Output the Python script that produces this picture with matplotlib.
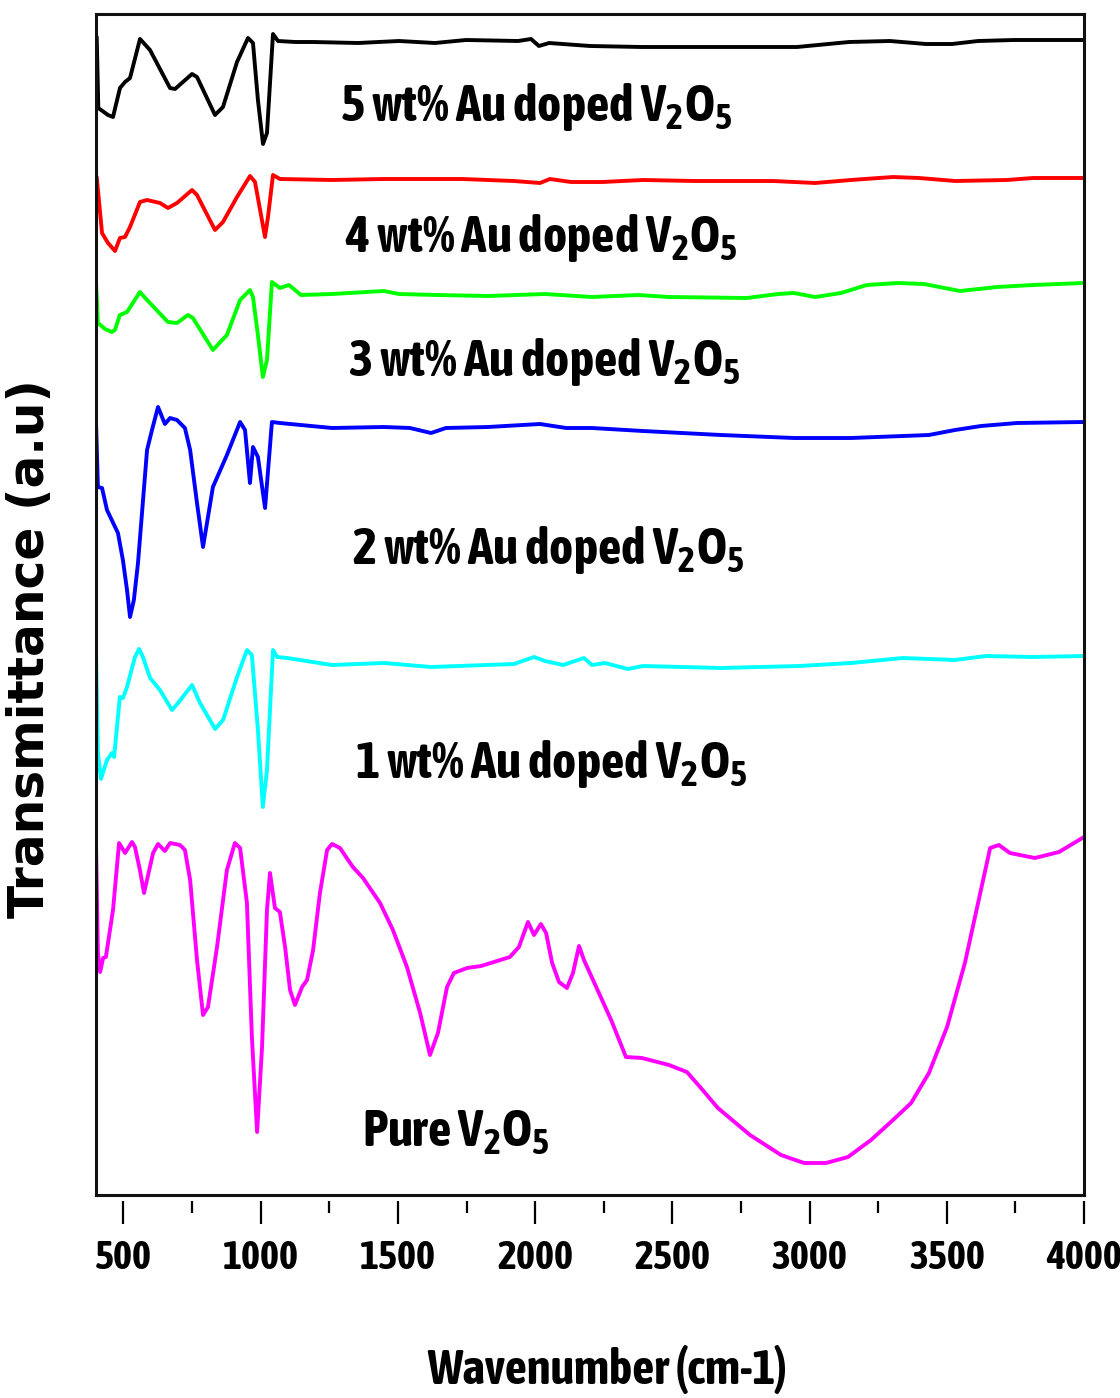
import matplotlib
matplotlib.use("Agg")
import matplotlib.pyplot as plt
from matplotlib.ticker import MultipleLocator

# ---------------- data (wavenumber in cm-1, transmittance in arbitrary offset units) -------------
wn_5 = [402.6, 408.4, 443.7, 461.9, 487.4, 505.7, 523.9, 560.3, 596.8, 669.6, 687.9, 749.8, 768,
        833.6, 862.7, 913.8, 953.8, 972, 990, 1008.5, 1023, 1044.9, 1063.2, 1127, 1191, 1355, 1504,
        1635, 1748, 1938, 1985, 2014, 2051, 2200, 2389, 2674, 2954, 3144, 3293, 3424, 3519, 3614,
        3745, 4000]
t_5 = [1158, 1087, 1080, 1078, 1107, 1113, 1117, 1156, 1145, 1107, 1106, 1121, 1118,
       1080, 1088, 1133, 1157, 1152, 1095, 1051, 1062, 1161, 1154, 1153, 1153, 1152, 1154,
       1152, 1155, 1154, 1156, 1149, 1152, 1149, 1148, 1148, 1148, 1153, 1154, 1151, 1151, 1154,
       1155, 1155]

wn_4 = [402.6, 421.9, 443.7, 469.2, 487.4, 505.7, 523.9, 560.3, 585.8, 633.2, 662.3, 695.1, 749.8,
        768, 833.6, 862.7, 913.8, 961.2, 979.4, 1015.8, 1026.7, 1044.9, 1070.4, 1259.9, 1449.4,
        1733.6, 1923, 2018, 2054, 2131, 2244, 2393, 2583, 2867, 3020, 3151, 3304, 3399, 3530, 3719,
        3814, 4000]
t_4 = [1018, 962, 952, 944, 957, 958, 968, 993, 995, 992, 987, 992, 1005,
       1000, 965, 973, 998, 1019, 1013, 958, 978, 1020, 1016, 1015, 1016,
       1016, 1014, 1012, 1016, 1013, 1013, 1015, 1014, 1014, 1012, 1015, 1018, 1017, 1014, 1015,
       1017, 1017]

wn_3 = [400, 407, 433, 458, 469, 487, 513, 560, 586, 662, 695, 735, 753, 826, 877, 925, 961, 972,
        990, 1008, 1023, 1041, 1070, 1103, 1147, 1260, 1449, 1504, 1639, 1828, 2036, 2207, 2375,
        2488, 2772, 2885, 2943, 3020, 3115, 3209, 3322, 3417, 3548, 3683, 3814, 4000]
t_3 = [913, 872, 866, 863, 865, 880, 883, 903, 895, 873, 872, 880, 877, 845, 860, 895, 905, 898,
       860, 818, 835, 913, 907, 910, 900, 901, 904, 901, 900, 899, 901, 898, 900,
       898, 897, 901, 902, 898, 902, 910, 912, 911, 904, 908, 910, 912]

wn_2 = [400, 407, 422, 440, 480, 498, 513, 524, 538, 553, 586, 604, 626, 651, 670, 695, 724, 743,
        768, 790, 826, 877, 925, 943, 961, 972, 990, 1016, 1041, 1070, 1260, 1449, 1544, 1621,
        1675, 1828, 2018, 2113, 2207, 2393, 2677, 2943, 3151, 3435, 3530, 3625, 3756, 4000]
t_2 = [773, 708, 707, 685, 662, 635, 605, 578, 595, 632, 745, 765, 788, 771, 777, 775, 767, 745,
       692, 648, 708, 740, 773, 765, 712, 748, 738, 687, 773, 772, 767, 768, 767, 762,
       767, 768, 771, 767, 767, 764, 760, 757, 757, 760, 765, 769, 772, 773]

wn_1 = [400, 407, 418, 440, 458, 466, 487, 498, 513, 542, 557, 571, 597, 633, 677, 699, 750, 779,
        834, 863, 914, 950, 968, 990, 1008, 1023, 1045, 1060, 1096, 1260, 1449, 1621, 1923, 1996,
        2036, 2102, 2178, 2207, 2255, 2338, 2393, 2677, 2962, 3151, 3340, 3530, 3643, 3814, 4000]
t_1 = [542, 442, 416, 435, 442, 438, 498, 497, 508, 538, 546, 538, 517, 505, 485, 492, 510, 492,
       466, 475, 518, 545, 540, 465, 388, 425, 545, 538, 537, 530, 532, 528, 531, 538,
       534, 530, 537, 530, 532, 526, 529, 527, 529, 532, 537, 535, 539, 538, 539]

wn_0 = [400, 407, 415, 426, 436, 462, 484, 506, 531, 542, 560, 575, 608, 626, 651, 670, 706, 724,
        743, 768, 790, 808, 841, 877, 906, 925, 950, 968, 987, 1005, 1023, 1034, 1052, 1070, 1089,
        1107, 1125, 1151, 1169, 1191, 1216, 1242, 1260, 1289, 1336, 1373, 1435, 1482, 1533, 1581,
        1617, 1646, 1679, 1704, 1752, 1803, 1850, 1908, 1941, 1974, 1996, 2021, 2040, 2062, 2087,
        2116, 2138, 2160, 2178, 2211, 2277, 2331, 2389, 2488, 2553, 2601, 2666, 2783, 2896, 2980,
        3060, 3140, 3224, 3304, 3370, 3435, 3501, 3566, 3614, 3658, 3690, 3730, 3821, 3909, 4000]
t_0 = [350, 242, 223, 237, 238, 285, 352, 342, 353, 348, 325, 302, 342, 351, 344, 352, 350, 345,
       315, 235, 180, 188, 248, 325, 352, 347, 292, 158, 63, 148, 285, 322, 287, 283, 248,
       205, 190, 208, 215, 245, 302, 345, 351, 347, 328, 317, 292, 265, 228, 182,
       140, 162, 208, 222, 227, 229, 233, 238, 248, 273, 260, 271, 262, 232, 213,
       207, 222, 249, 235, 215, 175, 138, 137, 130, 123, 108, 87, 60, 40, 32,
       32, 38, 55, 75, 92, 122, 168, 232, 292, 347, 350, 342, 337, 343, 358]

series_wn = [wn_5, wn_4, wn_3, wn_2, wn_1, wn_0]
series_t = [t_5, t_4, t_3, t_2, t_1, t_0]
series_colors = ["#000000", "#ff0000", "#00ff00", "#0000ff", "#00ffff", "#ff00ff"]
series_labels = ["5 wt% Au doped V$_2$O$_5$", "4 wt% Au doped V$_2$O$_5$",
                 "3 wt% Au doped V$_2$O$_5$", "2 wt% Au doped V$_2$O$_5$",
                 "1 wt% Au doped V$_2$O$_5$", "Pure V$_2$O$_5$"]
label_wn = [1289, 1307, 1318, 1333, 1344, 1369]
label_t = [1074, 943, 819, 631, 417, 48]

x_ticks = [500, 1000, 1500, 2000, 2500, 3000, 3500, 4000]

# ---------------- style -------------
cond = ["Asap Condensed", "DejaVu Sans"]
plt.rcParams["font.family"] = cond
plt.rcParams["font.weight"] = "bold"
plt.rcParams["mathtext.fontset"] = "custom"
plt.rcParams["mathtext.rm"] = "Asap Condensed:bold"
plt.rcParams["mathtext.it"] = "Asap Condensed:bold"
plt.rcParams["mathtext.bf"] = "Asap Condensed:bold"
plt.rcParams["mathtext.default"] = "rm"

fig = plt.figure(figsize=(11.2, 13.98), dpi=100)
ax = fig.add_axes([96 / 1120, 1 - 1195 / 1398, 988 / 1120, 1181 / 1398])

for wn, t, c in zip(series_wn, series_t, series_colors):
    ax.plot(wn, t, color=c, lw=2.8, solid_joinstyle="round", solid_capstyle="round")

for txt, xw, yt in zip(series_labels, label_wn, label_t):
    ax.text(xw, yt, txt, fontsize=37, fontweight="bold", ha="left", va="baseline")

ax.set_xlim(400, 4000)
ax.set_ylim(0, 1181)

ax.set_xticks(x_ticks)
ax.set_xticklabels([str(v) for v in x_ticks])
ax.xaxis.set_minor_locator(MultipleLocator(250))
ax.set_yticks([])

for s in ["left", "right", "top"]:
    ax.spines[s].set_linewidth(2.2)
    ax.spines[s].set_color("#111111")
ax.spines["bottom"].set_position(("outward", 4))
ax.spines["bottom"].set_visible(False)
ax.axhline(0, color="#111111", lw=2.2, clip_on=False)

ax.tick_params(axis="x", which="major", direction="out", length=16.5, width=1.6,
               labelsize=29, pad=11, top=False)
ax.tick_params(axis="x", which="minor", direction="out", length=8.5, width=1.6, top=False)
for lab in ax.get_xticklabels():
    lab.set_fontweight("bold")

ax.set_xlabel("Wavenumber (cm-1)", fontsize=35, fontweight="bold", va="center")
ax.xaxis.set_label_coords(0.517, -0.148)
ax.set_ylabel("Transmittance (a.u)", fontsize=35, fontweight="bold",
              family=["DejaVu Sans"], va="center", ha="center")
ax.yaxis.set_label_coords(-0.0668, 0.463)

fig.savefig("out.png", dpi=100)
